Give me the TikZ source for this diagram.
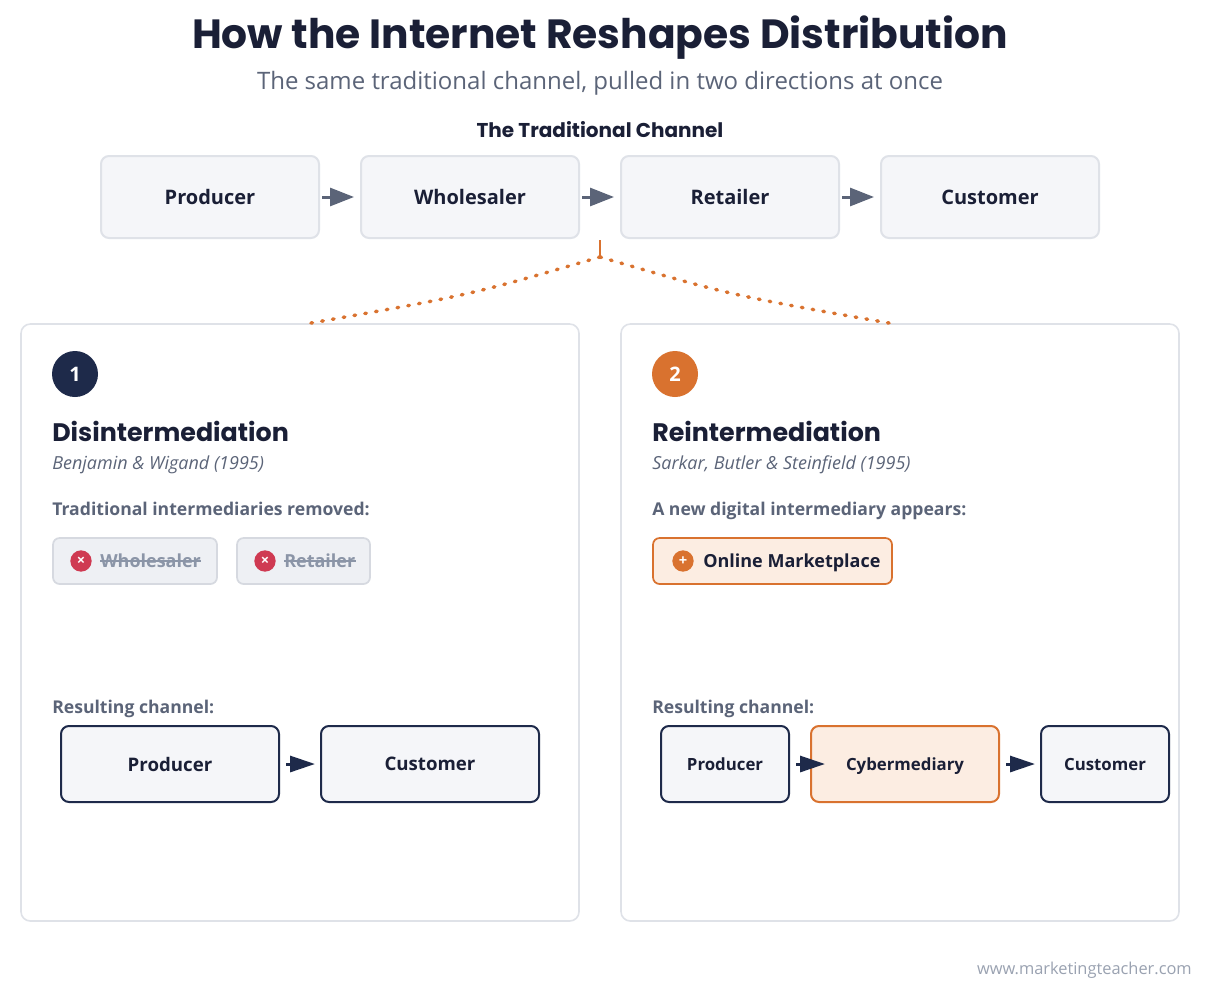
\documentclass[tikz,border=0pt]{standalone}
\usepackage{fontspec}
\setmainfont{Open Sans}
\newfontfamily\headfont{Poppins}
\usetikzlibrary{arrows.meta}
\definecolor{navy}{HTML}{1E2A4A}
\definecolor{ink}{HTML}{1A1F36}
\definecolor{slate}{HTML}{5B6478}
\definecolor{orng}{HTML}{D9722F}
\definecolor{peach}{HTML}{FCEDE2}
\definecolor{boxfill}{HTML}{F5F6F9}
\definecolor{boxline}{HTML}{DFE2E8}
\definecolor{chipfill}{HTML}{EEF0F4}
\definecolor{chipline}{HTML}{D6D9E0}
\definecolor{muted}{HTML}{8B95A7}
\definecolor{redx}{HTML}{CF3A52}
\definecolor{foot}{HTML}{9AA2B1}
\tikzset{
  even/.style={text depth=0pt},
  chanbox/.style={draw=boxline, fill=boxfill, line width=1.5pt, rounded corners=6pt,
    minimum width=163.5pt, minimum height=61.5pt, inner sep=0pt, text=ink, even,
    font=\fontsize{15}{18}\selectfont\bfseries},
  resbox/.style={draw=navy, fill=boxfill, line width=1.5pt, rounded corners=6pt,
    minimum height=57pt, inner sep=0pt, text=ink, even, font=\fontsize{14}{17}\selectfont\bfseries},
  smallres/.style={resbox, font=\fontsize{12.6}{15}\selectfont\bfseries},
  cyberbox/.style={smallres, draw=orng, fill=peach},
  panel/.style={draw=boxline, fill=white, line width=1.2pt, rounded corners=7pt,
    minimum width=418.5pt, minimum height=447.75pt, inner sep=0pt},
  chip/.style={draw=chipline, fill=chipfill, line width=1.3pt, rounded corners=5pt,
    minimum height=34.5pt, inner sep=0pt},
  badge/.style={circle, minimum size=34.5pt, inner sep=0pt, text=white,
    font=\fontsize{15}{18}\selectfont\bfseries},
  icon/.style={circle, minimum size=16pt, inner sep=0pt, text=white,
    font=\fontsize{11}{12}\selectfont\bfseries},
  lbl/.style={anchor=west, inner sep=0pt, even},
  strike/.style={muted, line width=1.1pt},
  flow/.style={line width=2.25pt, slate, -{Triangle[length=18pt,width=13.5pt]},
    shorten <=1.5pt, shorten >=4.5pt},
  resflow/.style={line width=2.25pt, navy, -{Triangle[length=18.75pt,width=12pt]}},
  branch/.style={orng, line width=2.6pt, line cap=round, dash pattern=on 1.2pt off 7pt}
}
\begin{document}
\begin{tikzpicture}[x=0.75pt,y=-0.75pt]
\useasboundingbox[fill=white] (0,0) rectangle (1212,999);
\node[text=ink, font=\headfont\fontsize{30.6}{36}\selectfont\bfseries] (title) at (600,38) {How the Internet Reshapes Distribution};
\node[text=slate, font=\fontsize{18}{22}\selectfont] (subtitle) at (600,83) {The same traditional channel, pulled in two directions at once};
\node[text=ink, font=\headfont\fontsize{15}{18}\selectfont\bfseries] (chantitle) at (600,130) {The Traditional Channel};
\node[chanbox] (producer) at (210,197) {Producer};
\node[chanbox] (wholesaler) at (470,197) {Wholesaler};
\node[chanbox] (retailer) at (730,197) {Retailer};
\node[chanbox] (customer) at (990,197) {Customer};
\draw[flow] (producer) -- (wholesaler);
\draw[flow] (wholesaler) -- (retailer);
\draw[flow] (retailer) -- (customer);
\node[panel] (dispanel) at (300,622.5) {};
\node[panel] (repanel) at (900,622.5) {};
\coordinate (stub) at (600,240);
\coordinate (split) at (600,257);
\draw[orng, line width=1.5pt] (stub) -- (split);
\draw[branch] (split) .. controls (470,295) .. ([xshift=7.5pt]dispanel.north);
\draw[branch] (split) .. controls (730,295) .. ([xshift=-7.5pt]repanel.north);
\node[badge, fill=navy] (one) at (75,374) {1};
\node[lbl, text=ink, font=\headfont\fontsize{19}{24}\selectfont\bfseries] (dishead) at (52,431) {Disintermediation};
\node[lbl, text=slate, font=\fontsize{13.5}{16}\selectfont\itshape] (disref) at (52,463) {Benjamin \& Wigand (1995)};
\node[lbl, text=slate, font=\fontsize{13.2}{16}\selectfont\bfseries] (dislbl) at (52,509) {Traditional intermediaries removed:};
\node[chip, minimum width=123pt] (chipw) at (135,561) {};
\node[icon, fill=redx] (xw) at (81,561) {\texttimes};
\node[lbl, text=muted, font=\fontsize{13.5}{16}\selectfont\bfseries] (tw) at (100,561) {Wholesaler};
\draw[strike] (tw.west) -- (tw.east);
\node[chip, minimum width=99.75pt] (chipr) at (303.5,561) {};
\node[icon, fill=redx] (xr) at (265,561) {\texttimes};
\node[lbl, text=muted, font=\fontsize{13.5}{16}\selectfont\bfseries] (tr) at (284,561) {Retailer};
\draw[strike] (tr.west) -- (tr.east);
\node[lbl, text=slate, font=\fontsize{13.2}{16}\selectfont\bfseries] (disres) at (52,707) {Resulting channel:};
\node[resbox, minimum width=163.5pt] (dprod) at (170,764) {Producer};
\node[resbox, minimum width=163.5pt] (dcust) at (430,764) {Customer};
\draw[resflow, shorten <=4.5pt, shorten >=3.75pt] (dprod) -- (dcust);
\node[badge, fill=orng] (two) at (675,374) {2};
\node[lbl, text=ink, font=\headfont\fontsize{19}{24}\selectfont\bfseries] (rehead) at (652,431) {Reintermediation};
\node[lbl, text=slate, font=\fontsize{13.5}{16}\selectfont\itshape] (reref) at (652,463) {Sarkar, Butler \& Steinfield (1995)};
\node[lbl, text=slate, font=\fontsize{13.2}{16}\selectfont\bfseries] (relbl) at (652,509) {A new digital intermediary appears:};
\node[chip, draw=orng, fill=peach, minimum width=179.25pt] (chipm) at (772.5,561) {};
\node[icon, fill=orng] (pm) at (683,561) {+};
\node[lbl, text=ink, font=\fontsize{13.5}{16}\selectfont\bfseries] (tm) at (703,561) {Online Marketplace};
\node[lbl, text=slate, font=\fontsize{13.2}{16}\selectfont\bfseries] (reres) at (652,707) {Resulting channel:};
\node[smallres, minimum width=96pt] (rprod) at (725,764) {Producer};
\node[cyberbox, minimum width=141pt] (cyber) at (905,764) {Cybermediary};
\node[smallres, minimum width=96pt] (rcust) at (1105,764) {Customer};
\draw[resflow, shorten <=4.5pt, shorten >=-11.25pt] (rprod) -- (cyber);
\draw[resflow, shorten <=4.5pt, shorten >=3.75pt] (cyber) -- (rcust);
\node[anchor=east, inner sep=0pt, text=foot, font=\fontsize{12.3}{14}\selectfont] (site) at (1192,970) {www.marketingteacher.com};
\end{tikzpicture}
\end{document}
